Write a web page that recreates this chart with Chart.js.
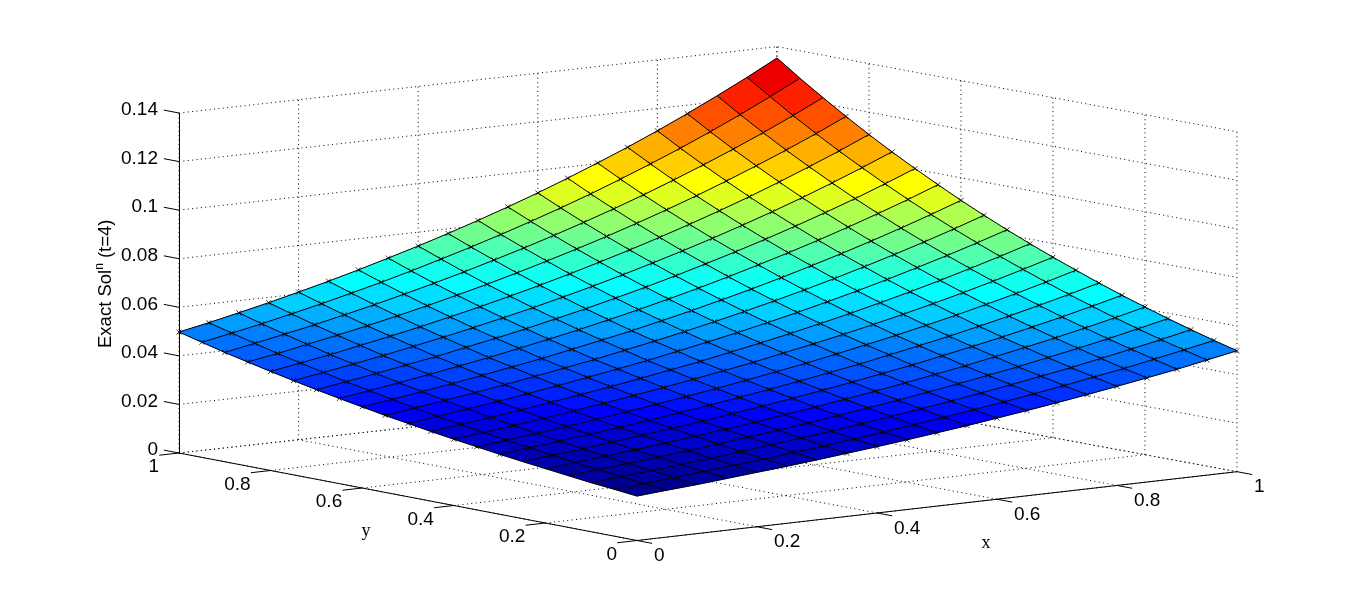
<!DOCTYPE html>
<html>
<head>
<meta charset="utf-8">
<title>Exact Sol</title>
<script src="https://cdn.jsdelivr.net/npm/chart.js@4"></script>
<style>
    html, body { margin: 0; padding: 0; background: #fff; }
    canvas { display: block; }
</style>
</head>
<body>
<canvas id="surface-chart" width="1366" height="607"></canvas>
<script>
// Data
const xValues = [0, 0.05, 0.1, 0.15, 0.2, 0.25, 0.3, 0.35, 0.4, 0.45, 0.5, 0.55, 0.6, 0.65, 0.7, 0.75, 0.8, 0.85, 0.9, 0.95, 1];
const yValues = [0, 0.05, 0.1, 0.15, 0.2, 0.25, 0.3, 0.35, 0.4, 0.45, 0.5, 0.55, 0.6, 0.65, 0.7, 0.75, 0.8, 0.85, 0.9, 0.95, 1];
// one row per y value, one column per x value
const zValues = [
    [.0183,.0193,.0202,.0213,.0224,.0235,.0247,.0260,.0273,.0287,.0302,.0317,.0334,.0351,.0369,.0388,.0408,.0429,.0450,.0474,.0498],
    [.0193,.0202,.0213,.0224,.0235,.0247,.0260,.0273,.0287,.0302,.0317,.0334,.0351,.0369,.0388,.0408,.0429,.0450,.0474,.0498,.0523],
    [.0202,.0213,.0224,.0235,.0247,.0260,.0273,.0287,.0302,.0317,.0334,.0351,.0369,.0388,.0408,.0429,.0450,.0474,.0498,.0523,.0550],
    [.0213,.0224,.0235,.0247,.0260,.0273,.0287,.0302,.0317,.0334,.0351,.0369,.0388,.0408,.0429,.0450,.0474,.0498,.0523,.0550,.0578],
    [.0224,.0235,.0247,.0260,.0273,.0287,.0302,.0317,.0334,.0351,.0369,.0388,.0408,.0429,.0450,.0474,.0498,.0523,.0550,.0578,.0608],
    [.0235,.0247,.0260,.0273,.0287,.0302,.0317,.0334,.0351,.0369,.0388,.0408,.0429,.0450,.0474,.0498,.0523,.0550,.0578,.0608,.0639],
    [.0247,.0260,.0273,.0287,.0302,.0317,.0334,.0351,.0369,.0388,.0408,.0429,.0450,.0474,.0498,.0523,.0550,.0578,.0608,.0639,.0672],
    [.0260,.0273,.0287,.0302,.0317,.0334,.0351,.0369,.0388,.0408,.0429,.0450,.0474,.0498,.0523,.0550,.0578,.0608,.0639,.0672,.0707],
    [.0273,.0287,.0302,.0317,.0334,.0351,.0369,.0388,.0408,.0429,.0450,.0474,.0498,.0523,.0550,.0578,.0608,.0639,.0672,.0707,.0743],
    [.0287,.0302,.0317,.0334,.0351,.0369,.0388,.0408,.0429,.0450,.0474,.0498,.0523,.0550,.0578,.0608,.0639,.0672,.0707,.0743,.0781],
    [.0302,.0317,.0334,.0351,.0369,.0388,.0408,.0429,.0450,.0474,.0498,.0523,.0550,.0578,.0608,.0639,.0672,.0707,.0743,.0781,.0821],
    [.0317,.0334,.0351,.0369,.0388,.0408,.0429,.0450,.0474,.0498,.0523,.0550,.0578,.0608,.0639,.0672,.0707,.0743,.0781,.0821,.0863],
    [.0334,.0351,.0369,.0388,.0408,.0429,.0450,.0474,.0498,.0523,.0550,.0578,.0608,.0639,.0672,.0707,.0743,.0781,.0821,.0863,.0907],
    [.0351,.0369,.0388,.0408,.0429,.0450,.0474,.0498,.0523,.0550,.0578,.0608,.0639,.0672,.0707,.0743,.0781,.0821,.0863,.0907,.0954],
    [.0369,.0388,.0408,.0429,.0450,.0474,.0498,.0523,.0550,.0578,.0608,.0639,.0672,.0707,.0743,.0781,.0821,.0863,.0907,.0954,.1003],
    [.0388,.0408,.0429,.0450,.0474,.0498,.0523,.0550,.0578,.0608,.0639,.0672,.0707,.0743,.0781,.0821,.0863,.0907,.0954,.1003,.1054],
    [.0408,.0429,.0450,.0474,.0498,.0523,.0550,.0578,.0608,.0639,.0672,.0707,.0743,.0781,.0821,.0863,.0907,.0954,.1003,.1054,.1108],
    [.0429,.0450,.0474,.0498,.0523,.0550,.0578,.0608,.0639,.0672,.0707,.0743,.0781,.0821,.0863,.0907,.0954,.1003,.1054,.1108,.1165],
    [.0450,.0474,.0498,.0523,.0550,.0578,.0608,.0639,.0672,.0707,.0743,.0781,.0821,.0863,.0907,.0954,.1003,.1054,.1108,.1165,.1225],
    [.0474,.0498,.0523,.0550,.0578,.0608,.0639,.0672,.0707,.0743,.0781,.0821,.0863,.0907,.0954,.1003,.1054,.1108,.1165,.1225,.1287],
    [.0498,.0523,.0550,.0578,.0608,.0639,.0672,.0707,.0743,.0781,.0821,.0863,.0907,.0954,.1003,.1054,.1108,.1165,.1225,.1287,.1353]
];
const xTicks = [0, 0.2, 0.4, 0.6, 0.8, 1];
const yTicks = [0, 0.2, 0.4, 0.6, 0.8, 1];
const zTicks = [0, 0.02, 0.04, 0.06, 0.08, 0.1, 0.12, 0.14];
const xTickLabels = ['0', '0.2', '0.4', '0.6', '0.8', '1'];
const yTickLabels = ['0', '0.2', '0.4', '0.6', '0.8', '1'];
const zTickLabels = ['0', '0.02', '0.04', '0.06', '0.08', '0.1', '0.12', '0.14'];

// View: the x scale runs 0..1 between the left and right floor corners,
// the y scale carries z, so the floor is shifted by x and y
const view = { x0: 0.4329, xx: 0.5671, xy: -0.4329, xTwist: -0.0019, z0: -0.03603, zx: 0.02833, zy: 0.03603, zTwist: -0.00099 };
const project = (x, y, z) => ({
    x: view.x0 + view.xx * x + view.xy * y + view.xTwist * x * y,
    y: z + view.z0 + view.zx * x + view.zy * y + view.zTwist * x * y
});

// MATLAB jet with 64 levels
const clamp01 = (v) => Math.max(0, Math.min(1, v));
const jetColor = (f) => {
    const t = (Math.min(63, Math.floor(f * 64)) + 1) / 64;
    const r = clamp01(Math.min(4 * t - 1.5, -4 * t + 4.5));
    const g = clamp01(Math.min(4 * t - 0.5, -4 * t + 3.5));
    const b = clamp01(Math.min(4 * t + 0.5, -4 * t + 2.5));
    return `rgb(${Math.round(r * 255)},${Math.round(g * 255)},${Math.round(b * 255)})`;
};

const datasets = [];
const lineSet = (data, dashed, order) => ({
    data: data,
    showLine: true,
    borderColor: '#000',
    borderWidth: 1,
    borderDash: dashed ? [1, 3.4] : [],
    pointRadius: 0,
    clip: false,
    order: order
});

// Dotted grid on the floor and the two back walls
xTicks.forEach(x => {
    datasets.push(lineSet([project(x, 0, 0), project(x, 1, 0)], true, 6));
    datasets.push(lineSet([project(x, 1, 0), project(x, 1, 0.14)], true, 6));
});
yTicks.forEach(y => {
    datasets.push(lineSet([project(0, y, 0), project(1, y, 0)], true, 6));
    datasets.push(lineSet([project(1, y, 0), project(1, y, 0.14)], true, 6));
});
zTicks.forEach(z => {
    datasets.push(lineSet([project(0, 1, z), project(1, 1, z), project(1, 0, z)], true, 6));
});

// Solid axes and their ticks
datasets.push(lineSet([project(0, 1, 0), project(0, 0, 0), project(1, 0, 0)], false, 1));
const tickLen = 0.033;
xTicks.forEach(x => datasets.push(lineSet([project(x, 0, 0), project(x, -tickLen, 0)], false, 1)));
yTicks.forEach(y => datasets.push(lineSet([project(0, y, 0), project(-tickLen, y, 0)], false, 1)));
zTicks.forEach(z => datasets.push(lineSet([project(0, 1, z), project(0, 1 + tickLen, z)], false, 1)));

// Surface cells, coloured flat from their first corner
const zAll = zValues.flat();
const zMin = Math.min(...zAll);
const zMax = Math.max(...zAll);
for (let j = 0; j < yValues.length - 1; j++) {
    for (let i = 0; i < xValues.length - 1; i++) {
        datasets.push({
            data: [
                project(xValues[i], yValues[j], zValues[j][i]),
                project(xValues[i + 1], yValues[j], zValues[j][i + 1]),
                project(xValues[i + 1], yValues[j + 1], zValues[j + 1][i + 1]),
                project(xValues[i], yValues[j + 1], zValues[j + 1][i])
            ],
            showLine: false,
            pointRadius: 0,
            cellColor: jetColor((zValues[j][i] - zMin) / (zMax - zMin)),
            clip: false,
            order: 5
        });
    }
}

// Mesh lines and the x markers on every vertex
const markers = [];
yValues.forEach((y, j) => {
    const row = xValues.map((x, i) => project(x, y, zValues[j][i]));
    datasets.push(lineSet(row, false, 3));
    markers.push(...row);
});
xValues.forEach((x, i) => {
    datasets.push(lineSet(yValues.map((y, j) => project(x, y, zValues[j][i])), false, 3));
});
datasets.push({
    data: markers,
    pointStyle: 'crossRot',
    pointRadius: 3.5,
    pointBorderColor: '#000',
    pointBorderWidth: 0.8,
    showLine: false,
    clip: false,
    order: 2
});

const fillCells = {
    id: 'fillCells',
    beforeDatasetDraw(chart, args) {
        const color = chart.data.datasets[args.index].cellColor;
        if (!color) return;
        const ctx = chart.ctx;
        ctx.save();
        ctx.beginPath();
        args.meta.data.forEach((p, k) => (k ? ctx.lineTo(p.x, p.y) : ctx.moveTo(p.x, p.y)));
        ctx.closePath();
        ctx.fillStyle = color;
        ctx.strokeStyle = color;
        ctx.lineWidth = 0.5;
        ctx.fill();
        ctx.stroke();
        ctx.restore();
    }
};

const axisText = {
    id: 'axisText',
    afterDraw(chart) {
        const ctx = chart.ctx;
        const sx = chart.scales.x;
        const sy = chart.scales.y;
        const px = (p) => [sx.getPixelForValue(p.x), sy.getPixelForValue(p.y)];
        ctx.save();
        ctx.fillStyle = '#000';
        ctx.textBaseline = 'middle';
        ctx.font = '19px "Liberation Sans"';

        ctx.textAlign = 'left';
        xTicks.forEach((x, i) => {
            const [a, b] = px(project(x, 0, 0));
            ctx.fillText(xTickLabels[i], a + 17, b + 15.5);
        });
        ctx.textAlign = 'right';
        yTicks.forEach((y, i) => {
            const [a, b] = px(project(0, y, 0));
            ctx.fillText(yTickLabels[i], a - 20, b + 14);
        });

        ctx.textAlign = 'center';
        ctx.font = '18px "Liberation Serif"';
        ctx.fillText('y', 366, 531);
        ctx.fillText('x', 986, 543);

        // z label, the n is raised
        ctx.translate(111, 348);
        ctx.rotate(-Math.PI / 2);
        ctx.textAlign = 'left';
        ctx.textBaseline = 'alphabetic';
        ctx.font = '18.5px "Liberation Sans"';
        ctx.fillText('Exact Sol', 0, 0);
        let w = ctx.measureText('Exact Sol').width;
        ctx.font = '12px "Liberation Sans"';
        ctx.fillText('n', w, -8);
        w += ctx.measureText('n').width;
        ctx.font = '18.5px "Liberation Sans"';
        ctx.fillText(' (t=4)', w, 0);
        ctx.restore();
    }
};

new Chart(document.getElementById('surface-chart').getContext('2d'), {
    type: 'scatter',
    data: { datasets: datasets },
    plugins: [fillCells, axisText],
    options: {
        responsive: false,
        animation: false,
        devicePixelRatio: 1,
        layout: { padding: { left: 119, right: 129, top: 113, bottom: 154 } },
        plugins: { legend: { display: false }, tooltip: { enabled: false } },
        events: [],
        scales: {
            x: { type: 'linear', min: 0, max: 1, display: false },
            y: {
                type: 'linear',
                min: 0,
                max: 0.14,
                afterFit: (scale) => { scale.width = 60; },
                grid: { display: false, drawTicks: false },
                border: { display: true, color: '#000', width: 1 },
                ticks: {
                    stepSize: 0.02,
                    autoSkip: false,
                    color: '#000',
                    padding: 21,
                    labelOffset: -3,
                    font: { family: '"Liberation Sans"', size: 19 },
                    callback: (value, index) => zTickLabels[index]
                }
            }
        }
    }
});
</script>
</body>
</html>
